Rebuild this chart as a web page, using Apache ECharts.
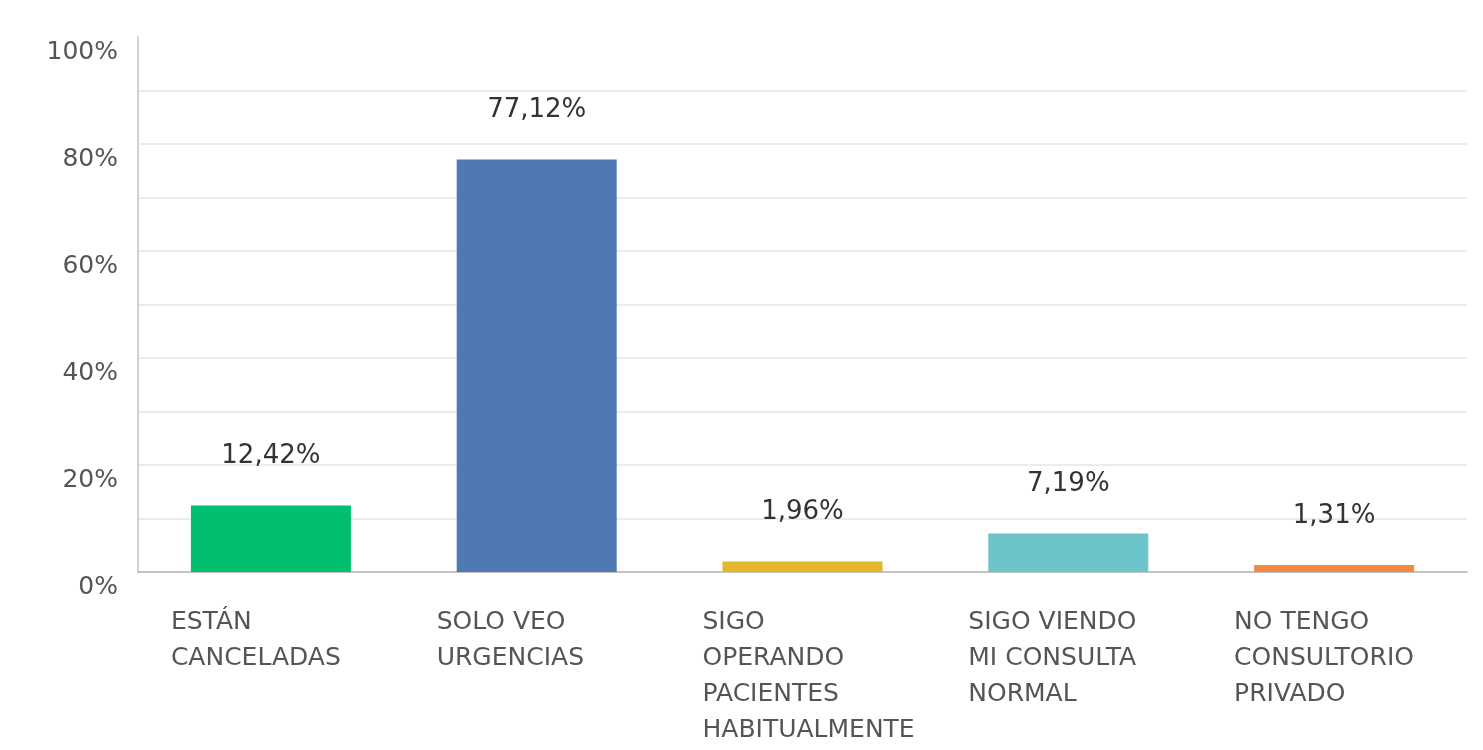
<!DOCTYPE html>
<html>
<head>
<meta charset="utf-8">
<script src="https://cdn.jsdelivr.net/npm/echarts@6/dist/echarts.min.js"></script>
<style>
  html, body { margin: 0; padding: 0; background: #fff; }
  #chart { width: 1483px; height: 750px; }
</style>
</head>
<body>
<div id="chart"></div>
<script>
  const categories = [
    'ESTÁN\nCANCELADAS',
    'SOLO VEO\nURGENCIAS',
    'SIGO\nOPERANDO\nPACIENTES\nHABITUALMENTE',
    'SIGO VIENDO\nMI CONSULTA\nNORMAL',
    'NO TENGO\nCONSULTORIO\nPRIVADO'
  ];
  const values = [12.42, 77.12, 1.96, 7.19, 1.31];
  const colors = ['#00bf6f', '#4e79b2', '#e6b62a', '#6bc4c9', '#f08a42'];

  const myChart = echarts.init(document.getElementById('chart'));
  const fontFamily = '"DejaVu Sans", "Liberation Sans", sans-serif';

  const option = {
    animation: false,
    grid: { left: 138, right: 16, top: 37, bottom: 178 },
    xAxis: {
      type: 'category',
      data: categories,
      axisLine: { lineStyle: { color: '#b5b5b5', width: 1.5 } },
      axisTick: { show: false },
      axisLabel: {
        interval: 0,
        margin: 32,
        formatter: function (v) {
          return v.split('\n').map(function (l) { return '{a|' + l + '}'; }).join('\n');
        },
        rich: {
          a: {
            width: 200, align: 'left', fontSize: 25, lineHeight: 36,
            color: '#555', fontFamily: fontFamily
          }
        }
      }
    },
    yAxis: {
      type: 'value',
      min: 0,
      max: 100,
      interval: 10,
      axisLine: { show: true, lineStyle: { color: '#c4c4c4', width: 1.5 } },
      axisTick: { show: false },
      splitLine: {
        lineStyle: {
          color: ['#e6e6e6', '#e6e6e6', '#e6e6e6', '#e6e6e6', '#e6e6e6', '#e6e6e6',
                  '#e6e6e6', '#e6e6e6', '#e6e6e6', '#e6e6e6', 'rgba(0,0,0,0)'],
          width: 1.5
        }
      },
      axisLabel: {
        margin: 20,
        verticalAlign: 'top',
        lineHeight: 30,
        fontSize: 25,
        color: '#555',
        fontFamily: fontFamily,
        formatter: function (v) { return v % 20 === 0 ? v + '%' : ''; }
      }
    },
    series: [{
      type: 'bar',
      barWidth: 160,
      data: values.map(function (v, i) {
        return { value: v, itemStyle: { color: colors[i] } };
      }),
      label: {
        show: true,
        position: 'top',
        distance: 36,
        fontSize: 26,
        color: '#333',
        fontFamily: fontFamily,
        formatter: function (p) { return p.value.toFixed(2).replace('.', ',') + '%'; }
      }
    }]
  };
  myChart.setOption(option);
</script>
</body>
</html>
